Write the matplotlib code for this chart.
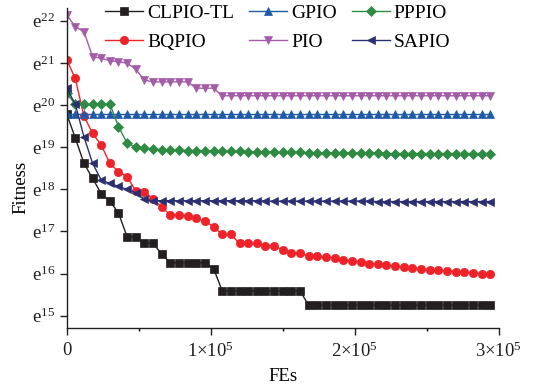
import numpy as np
import matplotlib
matplotlib.use("Agg")
import matplotlib.pyplot as plt
from matplotlib.ticker import FixedLocator, FuncFormatter, NullLocator, MultipleLocator

plt.rcParams['font.family'] = ['Liberation Serif', 'DejaVu Serif']
plt.rcParams['mathtext.fontset'] = 'stix'

# Function evaluations (x axis)
fes = np.arange(0, 300000, 6000)

# ln(Fitness) values
clpio_tl = [19.79, 19.22, 18.62, 18.26, 17.90, 17.72, 17.44, 16.87, 16.87, 16.72,
            16.72, 16.46, 16.26, 16.26, 16.26, 16.26, 16.26, 16.12, 15.59, 15.59,
            15.59, 15.59, 15.59, 15.59, 15.59, 15.59, 15.59, 15.59, 15.25, 15.25,
            15.25, 15.25, 15.25, 15.25, 15.25, 15.25, 15.25, 15.25, 15.25, 15.25,
            15.25, 15.25, 15.25, 15.25, 15.25, 15.25, 15.25, 15.25, 15.25, 15.25]
bqpio = [21.08, 20.63, 19.74, 19.33, 19.05, 18.62, 18.42, 18.30, 17.96, 17.94,
         17.77, 17.58, 17.39, 17.39, 17.37, 17.31, 17.25, 17.11, 16.93, 16.93,
         16.72, 16.72, 16.72, 16.66, 16.66, 16.56, 16.48, 16.48, 16.42, 16.42,
         16.39, 16.36, 16.32, 16.30, 16.27, 16.24, 16.22, 16.20, 16.17, 16.15,
         16.13, 16.11, 16.09, 16.08, 16.07, 16.05, 16.03, 16.01, 15.99, 15.98]
gpio = [19.79] * 50
pio = [22.14, 21.86, 21.74, 21.15, 21.11, 21.05, 21.03, 20.99, 20.85, 20.59,
       20.55, 20.55, 20.55, 20.55, 20.55, 20.40, 20.40, 20.40, 20.22, 20.22,
       20.22, 20.22, 20.22, 20.22, 20.22, 20.22, 20.22, 20.22, 20.22, 20.22,
       20.22, 20.22, 20.22, 20.22, 20.22, 20.22, 20.22, 20.22, 20.22, 20.22,
       20.22, 20.22, 20.22, 20.22, 20.22, 20.22, 20.22, 20.22, 20.22, 20.22]
pppio = [20.28, 20.02, 20.02, 20.02, 20.02, 20.02, 19.49, 19.09, 19.00, 18.97,
         18.95, 18.94, 18.93, 18.93, 18.92, 18.92, 18.91, 18.91, 18.90, 18.90,
         18.90, 18.89, 18.89, 18.89, 18.88, 18.88, 18.88, 18.88, 18.87, 18.87,
         18.87, 18.87, 18.86, 18.86, 18.86, 18.86, 18.86, 18.85, 18.85, 18.85,
         18.85, 18.85, 18.85, 18.85, 18.85, 18.85, 18.85, 18.85, 18.85, 18.85]
sapio = [20.40, 20.02, 19.25, 18.62, 18.22, 18.14, 18.07, 18.00, 17.92, 17.76,
         17.73, 17.73, 17.73, 17.73, 17.73, 17.73, 17.73, 17.73, 17.73, 17.73,
         17.73, 17.73, 17.73, 17.72, 17.72, 17.72, 17.72, 17.72, 17.72, 17.72,
         17.72, 17.72, 17.72, 17.72, 17.72, 17.72, 17.71, 17.71, 17.71, 17.71,
         17.71, 17.71, 17.71, 17.71, 17.71, 17.71, 17.71, 17.71, 17.71, 17.71]

labels = ['CLPIO-TL', 'BQPIO', 'GPIO', 'PIO', 'PPPIO', 'SAPIO']
series = [clpio_tl, bqpio, gpio, pio, pppio, sapio]
colors = ['#231f20', '#ee2329', '#1f5aa8', '#a45ba8', '#2f8a43', '#2b2f72']
markers = ['s', 'o', '^', 'v', 'D', '<']
msizes = [5.3, 6.0, 6.0, 6.0, 5.0, 6.0]

fig = plt.figure(figsize=(5.33, 3.85), dpi=100)
ax = fig.add_axes([0.125, 0.148, 0.811, 0.831])

for lab, s, c, m, ms in zip(labels, series, colors, markers, msizes):
    ax.plot(fes, np.exp(np.array(s)), color=c, marker=m, markersize=ms,
            markeredgecolor=c, markeredgewidth=0.5, linewidth=1.0, label=lab)

ax.set_yscale('log', base=np.e)
ax.set_ylim(np.exp(14.71), np.exp(22.30))
ax.set_xlim(0, 300000)

yexp = [15, 16, 17, 18, 19, 20, 21, 22]
ax.yaxis.set_major_locator(FixedLocator([np.exp(k) for k in yexp]))
ax.yaxis.set_minor_locator(NullLocator())
ax.yaxis.set_major_formatter(FuncFormatter(
    lambda v, p: r'$\mathregular{e^{%d}}$' % int(round(np.log(v)))))

xt = [0, 100000, 200000, 300000]
xtl = ['0', r'$\mathregular{1{\times}10^{5}}$', r'$\mathregular{2{\times}10^{5}}$',
       r'$\mathregular{3{\times}10^{5}}$']
ax.set_xticks(xt)
ax.set_xticklabels(xtl)
ax.xaxis.set_minor_locator(MultipleLocator(50000))

ax.tick_params(axis='both', which='major', direction='out', length=5, width=1,
               labelsize=13.5, colors='#231f20')
ax.tick_params(axis='x', which='minor', direction='out', length=2.5, width=1)
ax.tick_params(axis='x', pad=5)

for side in ['top', 'right']:
    ax.spines[side].set_visible(False)
for side in ['left', 'bottom']:
    ax.spines[side].set_linewidth(1.0)
    ax.spines[side].set_color('#231f20')

ax.set_xlabel('FEs', fontsize=13.5, labelpad=5)
ax.set_ylabel('Fitness', fontsize=13.5)
ax.yaxis.set_label_coords(-0.087, 0.44)

leg = fig.legend(loc='upper left', bbox_to_anchor=(0.197, 0.988), ncol=3,
                 frameon=False, fontsize=14, handlelength=1.96, handletextpad=0.2,
                 columnspacing=0.77, labelspacing=0.55, borderaxespad=0.0,
                 borderpad=0.0)

fig.savefig('out.png', dpi=100)
